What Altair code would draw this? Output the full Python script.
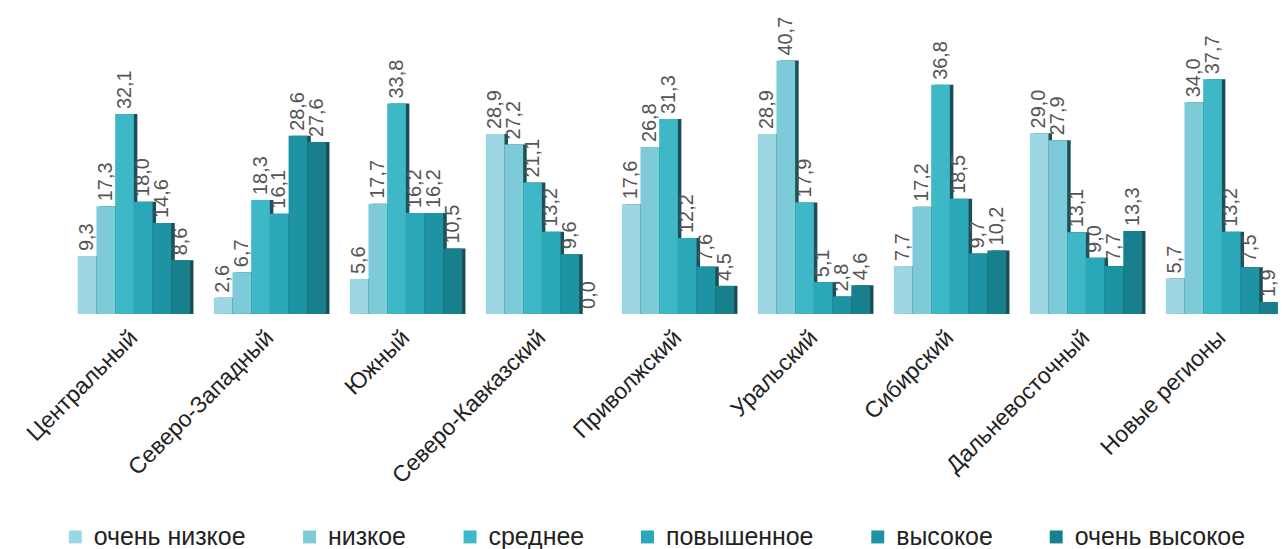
import altair as alt
import pandas as pd

regions = ["Центральный", "Северо-Западный", "Южный", "Северо-Кавказский",
           "Приволжский", "Уральский", "Сибирский", "Дальневосточный", "Новые регионы"]
levels = ["очень низкое", "низкое", "среднее", "повышенное", "высокое", "очень высокое"]
colors = ["#9dd7e1", "#7dcbd8", "#3eb7c7", "#2aa8b9", "#1d93a3", "#18808c"]

values = {
    "Центральный":       [9.3, 17.3, 32.1, 18.0, 14.6, 8.6],
    "Северо-Западный":   [2.6, 6.7, 18.3, 16.1, 28.6, 27.6],
    "Южный":             [5.6, 17.7, 33.8, 16.2, 16.2, 10.5],
    "Северо-Кавказский": [28.9, 27.2, 21.1, 13.2, 9.6, 0.0],
    "Приволжский":       [17.6, 26.8, 31.3, 12.2, 7.6, 4.5],
    "Уральский":         [28.9, 40.7, 17.9, 5.1, 2.8, 4.6],
    "Сибирский":         [7.7, 17.2, 36.8, 18.5, 9.7, 10.2],
    "Дальневосточный":   [29.0, 27.9, 13.1, 9.0, 7.7, 13.3],
    "Новые регионы":     [5.7, 34.0, 37.7, 13.2, 7.5, 1.9],
}

rows = []
for r in regions:
    for lv, v in zip(levels, values[r]):
        rows.append({"region": r, "level": lv, "value": v,
                     "label": f"{v:.1f}".replace(".", ",")})
df = pd.DataFrame(rows)

FONT = "Liberation Sans"
W = 1204
step = W / (9 - 0.175)
bw = step * (1 - 0.175)

xenc = alt.X("region:N", sort=regions, title=None,
             scale=alt.Scale(paddingInner=0.175, paddingOuter=0),
             axis=alt.Axis(labelAngle=-45, labelAlign="right", labelBaseline="middle",
                           labelFontSize=23, labelFont=FONT, labelColor="#222222",
                           labelPadding=20, domain=False, ticks=False, grid=False,
                           labelLimit=400))
yenc = alt.Y("value:Q", scale=alt.Scale(domain=[0, 45]), axis=None)

shadow = alt.Chart(df).mark_bar(color="#1c4f58").encode(
    x=xenc,
    xOffset=alt.XOffset("level:N", sort=levels,
                        scale=alt.Scale(range=[3.5, bw + 3.5], paddingInner=0, paddingOuter=0)),
    y=yenc,
)

base = alt.Chart(df).encode(
    x=xenc,
    xOffset=alt.XOffset("level:N", sort=levels,
                        scale=alt.Scale(range=[0, bw], paddingInner=0, paddingOuter=0)),
    y=yenc,
)

bars = base.mark_bar().encode(
    color=alt.Color("level:N", sort=levels,
                    scale=alt.Scale(domain=levels, range=colors),
                    legend=alt.Legend(orient="none", direction="horizontal",
                                      legendX=-15, legendY=492, title=None,
                                      symbolType="square",
                                      symbolSize=169, symbolStrokeWidth=0,
                                      labelFontSize=25, labelFont=FONT,
                                      labelColor="#222222", labelOffset=6,
                                      columnPadding=51, labelLimit=400)),
)

labels = base.mark_text(angle=270, align="left", baseline="middle", dx=5,
                        fontSize=20, font=FONT, color="#555555").encode(
    text="label:N")

front = alt.layer(bars, labels)

chart = alt.layer(shadow, front).resolve_scale(xOffset="independent").properties(
    width=W, height=281, background="white",
    autosize=alt.AutoSizeParams(type="none"),
    padding={"left": 70, "top": 25, "right": 0, "bottom": 235},
).configure_view(stroke="transparent", strokeWidth=0)

chart.save("out.html", embed_options={"renderer": "svg", "actions": False})
